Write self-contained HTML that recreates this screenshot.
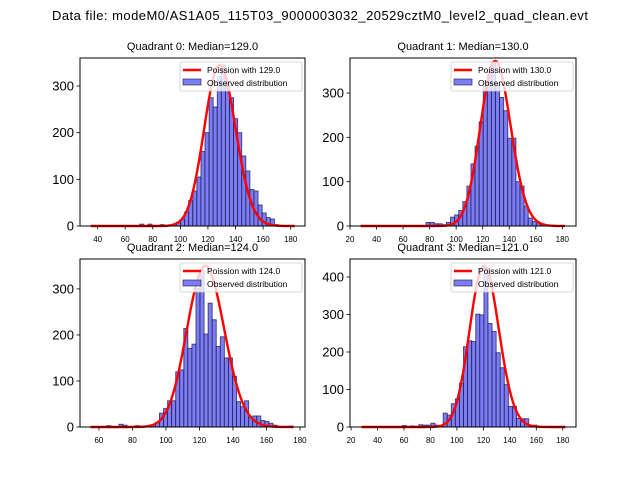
<!DOCTYPE html>
<html><head><meta charset="utf-8"><style>
html,body{margin:0;padding:0;background:#fff;width:640px;height:480px;overflow:hidden}
svg text{font-family:"Liberation Sans","DejaVu Sans",sans-serif;fill:#000}
</style></head><body>
<svg id="fig" width="640" height="480" viewBox="0 0 640 480">
<text x="320" y="20" text-anchor="middle" font-size="13" textLength="536">Data file: modeM0/AS1A05_115T03_9000003032_20529cztM0_level2_quad_clean.evt</text>
</svg>
<script>
// ---- data ----
const medians = [129.0, 130.0, 124.0, 121.0];
const binStarts = [35, 28, 55, 28];
const binWidths = [2.96, 3.08, 2.42, 3.08];
const counts0 = [0,0,0,0,0,0,0,0,0,0,0,0,4,0,4,0,0,3,0,2,4,8,14,30,55,75,105,160,200,275,255,320,345,300,275,230,200,150,118,78,75,45,28,18,15,3,0,0,0,0];
const counts1 = [0,0,0,0,0,0,0,0,0,0,0,0,0,0,0,0,8,8,5,5,3,8,20,25,35,55,90,140,180,235,315,340,370,320,290,260,198,198,100,90,45,18,10,5,3,0,0,0,0,0];
const counts2 = [0,0,0,0,3,0,0,6,4,0,0,3,0,0,3,5,10,30,40,57,57,120,124,214,171,180,301,341,202,269,233,175,196,150,150,110,55,44,57,21,24,24,14,12,8,4,0,0,0,2];
const counts3 = [0,0,0,0,0,0,0,0,0,0,4,0,3,0,6,5,5,10,5,4,37,32,62,75,117,214,230,228,301,299,425,276,255,198,158,113,55,55,23,22,22,0,5,0,0,0,0,0,0,0];
const allCounts = [counts0, counts1, counts2, counts3];
const curvePeaks = [345, 372, 350, 430];
const curveRanges = [[35,183],[28,182],[55,176],[28,182]];
const xTicks = [[40,60,80,100,120,140,160,180],[20,40,60,80,100,120,140,160,180],[60,80,100,120,140,160,180],[20,40,60,80,100,120,140,160,180]];
const yTicks = [[0,100,200,300],[0,100,200,300],[0,100,200,300],[0,100,200,300,400]];
const xDomains = [[27.2,190.4],[20,190.3],[48.7,183],[19.2,190]];
const yMaxes = [360, 379, 365, 448];
// ---- layout ----
const boxes = [[80,58,305,226],[350,58,576,226],[80,259,305,427],[350,259,576,427]];
const NS = "http://www.w3.org/2000/svg";
const fig = document.getElementById('fig');
function mk(tag, attrs, parent){const e=document.createElementNS(NS,tag);for(const k in attrs)e.setAttribute(k,attrs[k]);(parent||fig).appendChild(e);return e;}
function lgamma(z){
  return (z-0.5)*Math.log(z)-z+0.5*Math.log(2*Math.PI)+1/(12*z)-1/(360*z*z*z);
}
for(let q=0;q<4;q++){
  const [x0,y0,x1,y1]=boxes[q];
  const [dmin,dmax]=xDomains[q];
  const xs=v=>x0+(v-dmin)/(dmax-dmin)*(x1-x0);
  const ys=v=>y1-v/yMaxes[q]*(y1-y0);
  const g=mk('g',{});
  
  
  const t=mk('text',{x:(x0+x1)/2,y:y0-8,'text-anchor':'middle','font-size':'11'},g);
  t.textContent='Quadrant '+q+': Median='+medians[q].toFixed(1);
  
  
  const cs=allCounts[q];
  for(let i=0;i<cs.length;i++){
    if(cs[i]<=0)continue;
    const a=binStarts[q]+i*binWidths[q], b=a+binWidths[q];
    const r=mk('rect',{x:xs(a),y:ys(cs[i]),width:xs(b)-xs(a),height:ys(0)-ys(cs[i]),fill:'rgb(125,125,245)',stroke:'rgba(20,20,70,0.75)','stroke-width':'0.9'},g);
    
    
  }
  const lam=medians[q];
  const lpk=Math.floor(lam)*Math.log(lam)-lam-lgamma(Math.floor(lam)+1);
  let d='';
  const [c0,c1]=curveRanges[q];
  for(let k=c0;k<=c1;k+=0.5){
    const lp=k*Math.log(lam)-lam-lgamma(k+1);
    const v=curvePeaks[q]*Math.exp(lp-lpk);
    d+=(d?'L':'M')+xs(k).toFixed(2)+','+ys(v).toFixed(2);
  }
  const p=mk('path',{d:d,fill:'none',stroke:'#ff0000','stroke-width':'2.4','stroke-linejoin':'round'},g);
  
  
  const fr=mk('rect',{x:x0,y:y0,width:x1-x0,height:y1-y0,fill:'none',stroke:'#000','stroke-width':'1'},g);
  
  
  for(const v of xTicks[q]){
    const X=xs(v);
    mk('line',{x1:X,y1:y1,x2:X,y2:y1+3.5,stroke:'#000','stroke-width':'0.8'},g);
    const tl=mk('text',{x:X,y:y1+16,'text-anchor':'middle','font-size':'8'},g);
    tl.textContent=v;
    
    
  }
  for(const v of yTicks[q]){
    const Y=ys(v);
    mk('line',{x1:x0-3.5,y1:Y,x2:x0,y2:Y,stroke:'#000','stroke-width':'0.8'},g);
    const tl=mk('text',{x:x0-6,y:Y+4.5,'text-anchor':'end','font-size':'13'},g);
    tl.textContent=v;
    
    
  }
  const lg=mk('g',{},g);
  
  
  const lx=x1-125, ly=y0+4;
  mk('rect',{x:lx,y:ly,width:122,height:29,rx:2,fill:'rgba(255,255,255,0.8)',stroke:'#ccc','stroke-width':'0.8'},lg);
  mk('line',{x1:lx+3,y1:ly+8,x2:lx+21,y2:ly+8,stroke:'#ff0000','stroke-width':'2.4'},lg);
  const t1=mk('text',{x:lx+27,y:ly+11,'font-size':'8.5'},lg);
  t1.textContent='Poission with '+medians[q].toFixed(1);
  
  
  mk('rect',{x:lx+3,y:ly+17,width:18,height:6,fill:'rgb(125,125,245)',stroke:'rgba(20,20,70,0.75)','stroke-width':'0.8'},lg);
  const t2=mk('text',{x:lx+27,y:ly+24,'font-size':'8.5'},lg);
  t2.textContent='Observed distribution';
  
  
}
</script>
</body></html>
